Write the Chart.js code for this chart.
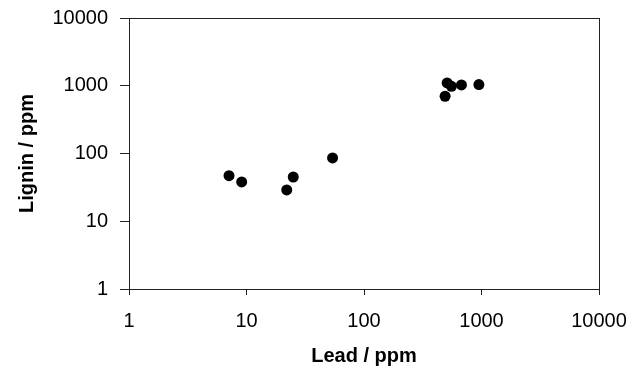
<!DOCTYPE html>
<html><head><meta charset="utf-8">
<script src="https://cdn.jsdelivr.net/npm/chart.js@4/dist/chart.umd.min.js"></script>
<style>html,body{margin:0;padding:0;background:#fff}#wrap{width:635px;height:369px}</style>
</head><body><div id="wrap"><canvas id="c" width="635" height="369"></canvas></div>
<script>
const lead = [7.1, 9.1, 22, 25, 54, 490, 510, 555, 675, 950];
const lignin = [47, 38, 29, 45, 86, 700, 1100, 980, 1030, 1040];
const xTicks = [1, 10, 100, 1000, 10000];
const yTicks = [1, 10, 100, 1000, 10000];
const xTitle = 'Lead / ppm';
const yTitle = 'Lignin / ppm';

const FAMILY = '"Liberation Sans", Arial, Helvetica, sans-serif';

const framePlugin = {
  id: 'frame',
  beforeDatasetsDraw(chart) {
    const {ctx, chartArea: a} = chart;
    ctx.save();
    ctx.strokeStyle = '#222';
    ctx.lineWidth = 1;
    ctx.strokeRect(Math.round(a.left) + 0.5, Math.round(a.top) + 0.5,
                   Math.round(a.right - a.left), Math.round(a.bottom - a.top));
    ctx.restore();
  }
};

new Chart(document.getElementById('c'), {
  type: 'scatter',
  data: {
    datasets: [{
      data: lead.map((x, i) => ({x: x, y: lignin[i]})),
      backgroundColor: '#000',
      borderColor: '#000',
      borderWidth: 0,
      pointRadius: 5.5,
      pointHoverRadius: 5.5
    }]
  },
  options: {
    responsive: false,
    animation: false,
    layout: {autoPadding: false, padding: {left: 0, right: 36, top: 18, bottom: 0}},
    plugins: {legend: {display: false}, tooltip: {enabled: false}},
    scales: {
      x: {
        type: 'logarithmic',
        position: 'bottom',
        min: 1, max: 10000,
        afterBuildTicks: s => { s.ticks = xTicks.map(v => ({value: v})); },
        afterFit: s => { s.height = 80; s.paddingLeft = 0; s.paddingRight = 0; },
        ticks: {
          callback: v => String(v),
          font: {family: FAMILY, size: 20},
          color: '#000',
          padding: 14,
          maxRotation: 0,
          autoSkip: false
        },
        grid: {display: true, drawOnChartArea: false, drawTicks: true, tickLength: 6, color: '#222'},
        border: {display: false},
        title: {display: true, text: xTitle, color: '#000',
                font: {family: FAMILY, size: 20, weight: 'bold'},
                padding: {top: 0, bottom: 1}}
      },
      y: {
        type: 'logarithmic',
        position: 'left',
        min: 1, max: 10000,
        afterBuildTicks: s => { s.ticks = yTicks.map(v => ({value: v})); },
        afterFit: s => { s.width = 129; s.paddingTop = 0; s.paddingBottom = 0; },
        ticks: {
          callback: v => String(v),
          font: {family: FAMILY, size: 20},
          color: '#000',
          padding: 12,
          autoSkip: false
        },
        grid: {display: true, drawOnChartArea: false, drawTicks: true, tickLength: 9, color: '#222'},
        border: {display: false},
        title: {display: true, text: yTitle, color: '#000',
                font: {family: FAMILY, size: 20, weight: 'bold'},
                padding: {top: 15, bottom: 0}}
      }
    }
  },
  plugins: [framePlugin]
});
</script>
</body></html>
